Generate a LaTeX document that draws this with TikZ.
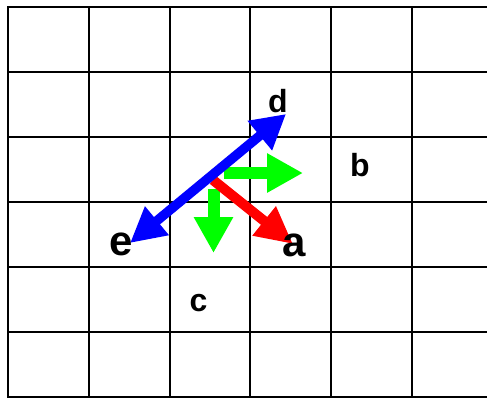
\documentclass[tikz,border=0pt]{standalone}
\usepackage{fontspec}
\setmainfont{Liberation Sans}
\usetikzlibrary{arrows.meta}
\definecolor{pureblue}{RGB}{0,0,255}
\definecolor{purered}{RGB}{255,0,0}
\definecolor{puregreen}{RGB}{0,255,0}
\tikzset{
  gridline/.style={draw=black, line width=2pt},
  smalllabel/.style={inner sep=0pt, font=\fontsize{32}{38}\selectfont\bfseries},
  biglabel/.style={inner sep=0pt, font=\fontsize{42}{50}\selectfont\bfseries},
  bluearrow/.style={draw=pureblue, line width=9.5pt,
    {Triangle[length=35pt,width=35pt]}-{Triangle[length=34pt,width=36pt]}},
  redarrow/.style={draw=purered, line width=10pt, -{Triangle[length=37pt,width=35pt]}},
  greenarrow/.style={draw=puregreen, line width=12pt, -{Triangle[length=36pt,width=37pt]}}
}
\begin{document}
\begin{tikzpicture}[x=1pt,y=-1pt]
\useasboundingbox (0,0) rectangle (487,397);
\fill[white] (0,0) rectangle (487,397);
% grid
\foreach \x in {8,89,170,250,331,412} \draw[gridline] (\x,6) -- (\x,398);
\foreach \y in {7,72,137,202,267,332,396.5} \draw[gridline] (7,\y) -- (488,\y);
% anchor points
\coordinate (gstart) at (224,173);
\coordinate (gtip) at (303,173);
\coordinate (cstart) at (213.5,189);
\coordinate (ctip) at (213.5,253);
\coordinate (rstart) at (213,180);
\coordinate (rtip) at (293,244);
\coordinate (etip) at (130,243);
\coordinate (dtip) at (286,114);
% arrows
\draw[greenarrow] (gstart) -- (gtip);
\draw[greenarrow] (cstart) -- (ctip);
\draw[redarrow] (rstart) -- (rtip);
\draw[bluearrow] (etip) -- (dtip);
% labels
\node[smalllabel] (d) at (278,101.5) {d};
\node[smalllabel] (b) at (360,165.5) {b};
\node[smalllabel] (c) at (198.5,303.5) {c};
\node[biglabel] (e) at (121,244) {e};
\node[biglabel] (a) at (294.5,245) {a};
\end{tikzpicture}
\end{document}
